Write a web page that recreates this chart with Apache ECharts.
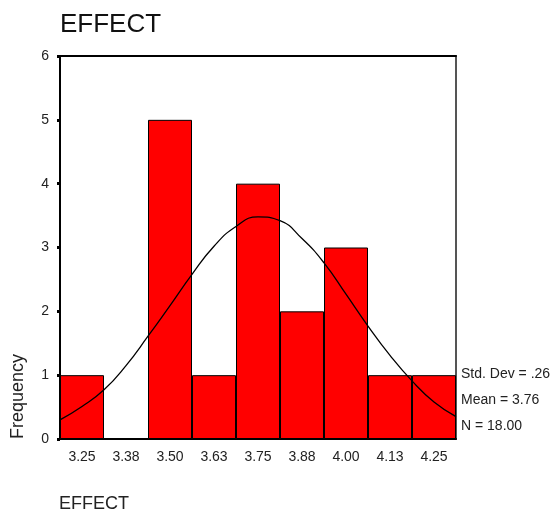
<!DOCTYPE html>
<html>
<head>
<meta charset="utf-8">
<script src="https://cdn.jsdelivr.net/npm/echarts@6/dist/echarts.min.js"></script>
<style>
  html, body { margin: 0; padding: 0; background: #fff; }
  #chart { width: 553px; height: 512px; }
</style>
</head>
<body>
<div id="chart"></div>
<script>
// histogram bins (category labels) and counts
var binLabels = ['3.25', '3.38', '3.50', '3.63', '3.75', '3.88', '4.00', '4.13', '4.25'];
var counts = [1, 0, 5, 1, 4, 2, 3, 1, 1];

// normal curve
var curveX = [3.1875, 3.25, 3.3125, 3.375, 3.4375, 3.5, 3.5625, 3.625, 3.6875, 3.75,
              3.8125, 3.875, 3.9375, 4.0, 4.0625, 4.125, 4.1875, 4.25, 4.3125];
var curveY = [0.30, 0.51, 0.77, 1.15, 1.61, 2.09, 2.58, 3.02, 3.33, 3.48,
              3.42, 3.14, 2.76, 2.27, 1.77, 1.31, 0.91, 0.58, 0.35];

var yTicks = [0, 1, 2, 3, 4, 5, 6];
var stats = ['Std. Dev = .26', 'Mean = 3.76', 'N = 18.00'];

var font = 'Liberation Sans, Arial, sans-serif';

var chartDom = document.getElementById('chart');
var myChart = echarts.init(chartDom, null, { renderer: 'canvas' });
var option;

var curveData = curveX.map(function (x, i) { return [x, curveY[i]]; });

option = {
  animation: false,
  backgroundColor: '#fff',
  grid: { left: 60, top: 56, right: 97, bottom: 73 },
  xAxis: [
    {
      type: 'category',
      data: binLabels,
      boundaryGap: true,
      axisLine: { lineStyle: { color: '#000', width: 2 } },
      axisTick: { alignWithLabel: true, length: 4, lineStyle: { color: '#000', width: 3 } },
      axisLabel: { color: '#222', fontSize: 14, fontFamily: font, margin: 11 },
      splitLine: { show: false }
    },
    {
      type: 'value',
      position: 'top',
      min: curveX[0],
      max: curveX[curveX.length - 1],
      axisLine: { show: true, onZero: false, lineStyle: { color: '#000', width: 2 } },
      axisTick: { show: false },
      axisLabel: { show: false },
      splitLine: { show: false }
    }
  ],
  yAxis: [
    {
      type: 'value',
      min: yTicks[0],
      max: yTicks[yTicks.length - 1],
      interval: 1,
      axisLine: { show: true, lineStyle: { color: '#000', width: 2 } },
      axisTick: { show: true, length: 3, lineStyle: { color: '#000', width: 3 } },
      axisLabel: { color: '#222', fontSize: 14, fontFamily: font, margin: 11 },
      splitLine: { show: false }
    },
    {
      type: 'value',
      position: 'right',
      min: 0,
      max: 6,
      axisLine: { show: true, lineStyle: { color: '#555', width: 2 } },
      axisTick: { show: false },
      axisLabel: { show: false },
      splitLine: { show: false }
    }
  ],
  series: [
    {
      type: 'bar',
      data: counts,
      barCategoryGap: '0%',
      itemStyle: { color: '#ff0000', borderColor: '#000', borderWidth: 1 }
    },
    {
      type: 'line',
      xAxisIndex: 1,
      yAxisIndex: 0,
      data: curveData,
      smooth: true,
      symbol: 'none',
      lineStyle: { color: '#000', width: 1.3 }
    }
  ],
  graphic: [
    {
      type: 'text', left: 60, top: 12,
      style: { text: 'EFFECT', font: '26px ' + font, fill: '#111' }
    },
    {
      type: 'text', x: 27, y: 439, rotation: Math.PI / 2,
      style: { text: 'Frequency', font: '18px ' + font, fill: '#222',
               textAlign: 'left', textVerticalAlign: 'bottom' }
    },
    {
      type: 'text', left: 59, top: 495,
      style: { text: 'EFFECT', font: '18px ' + font, fill: '#222' }
    }
  ].concat(stats.map(function (s, i) {
    return {
      type: 'text', x: 461, y: 367 + i * 26,
      style: { text: s, font: '14px ' + font, fill: '#222' }
    };
  }))
};

option && myChart.setOption(option);
</script>
</body>
</html>
